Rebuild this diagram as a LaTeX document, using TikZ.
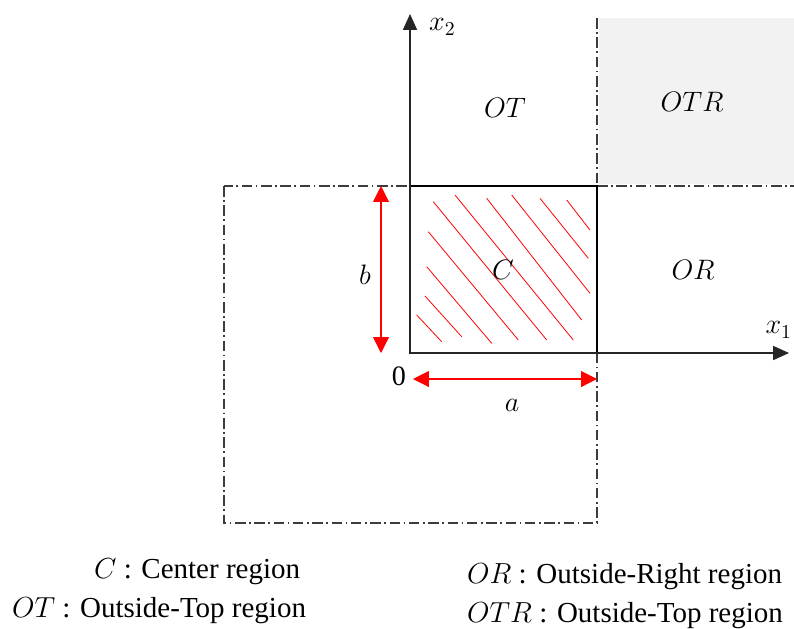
\documentclass[tikz,border=0pt]{standalone}
\usepackage{fix-cm}
\usepackage{fontspec}
\setmainfont{Liberation Serif}
\usepackage{xcolor}
\definecolor{regred}{RGB}{255,0,0}
\definecolor{reggray}{RGB}{242,242,242}
\definecolor{dashgray}{RGB}{60,60,60}
\usetikzlibrary{arrows.meta}

\tikzset{
  lbl/.style={font=\fontsize{16}{19}\selectfont, inner sep=1pt},
  legend/.style={font=\fontsize{16.5}{20}\selectfont, inner sep=1pt, anchor=base west},
  dashdot/.style={dashgray, line width=0.6pt, dash pattern=on 6pt off 2pt on 1pt off 2pt},
  hatch/.style={regred, line width=0.45pt},
  dimarrow/.style={{Triangle[length=9pt,width=9pt]}-{Triangle[length=9pt,width=9pt]}, regred, line width=0.6pt},
  axis/.style={-{Triangle[length=9pt,width=8pt]}, black!85, line width=0.6pt}
}

\begin{document}
\begin{tikzpicture}[x=0.2mm, y=-0.2mm]
\useasboundingbox (0,0) rectangle (794,628);

% === Key points ===
\coordinate (O) at (410,353);
\coordinate (sqTR) at (597,186);
\coordinate (xtop) at (410,14);
\coordinate (xright) at (789,353);

% Outside-top-right region (shaded)
\fill[reggray] (599,18) rectangle (794,184);

% === Dash-dot partition lines ===
\draw[dashdot] (224,186) rectangle (597,523);
\draw[dashdot] (597,18) -- (597,186);
\draw[dashdot] (597,186) -- (794,186);

% === Hatching of the center region ===
\foreach \xa/\ya/\xb/\yb in {416.7/315/441.7/341.7, 425/296/461.7/336.7,
    426.7/266.7/491.7/343.3, 428.3/231.7/518.3/340, 433.3/201.7/546.7/340,
    455/195/573.3/340, 486.7/198.3/581.7/320, 511.7/195/590/293.3,
    540/198.3/588.3/258.3, 566.7/200/590/230} {
  \draw[hatch] (\xa,\ya) -- (\xb,\yb);
}

% Center square
\draw[black, line width=0.9pt] (O) rectangle (sqTR);

% === Axes ===
\draw[axis] (O) -- (xtop);
\draw[axis] (O) -- (xright);
\node[lbl, anchor=west] (x2) at (427,27) {$x_2$};
\node[lbl, anchor=east] (x1) at (794,330) {$x_1$};
\node[lbl] (zero) at (399,376) {0};

% === Dimension arrows ===
\coordinate (bTop) at (381,186);
\coordinate (bBot) at (381,353);
\draw[dimarrow] (bTop) -- (bBot);
\node[lbl] (blbl) at (365,275) {$b$};

\coordinate (aL) at (413,379);
\coordinate (aR) at (597,379);
\draw[dimarrow] (aL) -- (aR);
\node[lbl] (albl) at (512,405) {$a$};

% === Region labels ===
\node[lbl] (C) at (503,270) {$C$};
\node[lbl] (OT) at (505,108) {$OT$};
\node[lbl] (OTR) at (692,102) {$OTR$};
\node[lbl] (OR) at (693,270) {$OR$};

% === Legend ===
\node[legend] (legC) at (92,578) {$C$ : Center region};
\node[legend] (legOT) at (10,617) {$OT$ : Outside-Top region};
\node[legend] (legOR) at (465,583) {$OR$ : Outside-Right region};
\node[legend] (legOTR) at (465,622) {$OTR$ : Outside-Top region};

\end{tikzpicture}
\end{document}
